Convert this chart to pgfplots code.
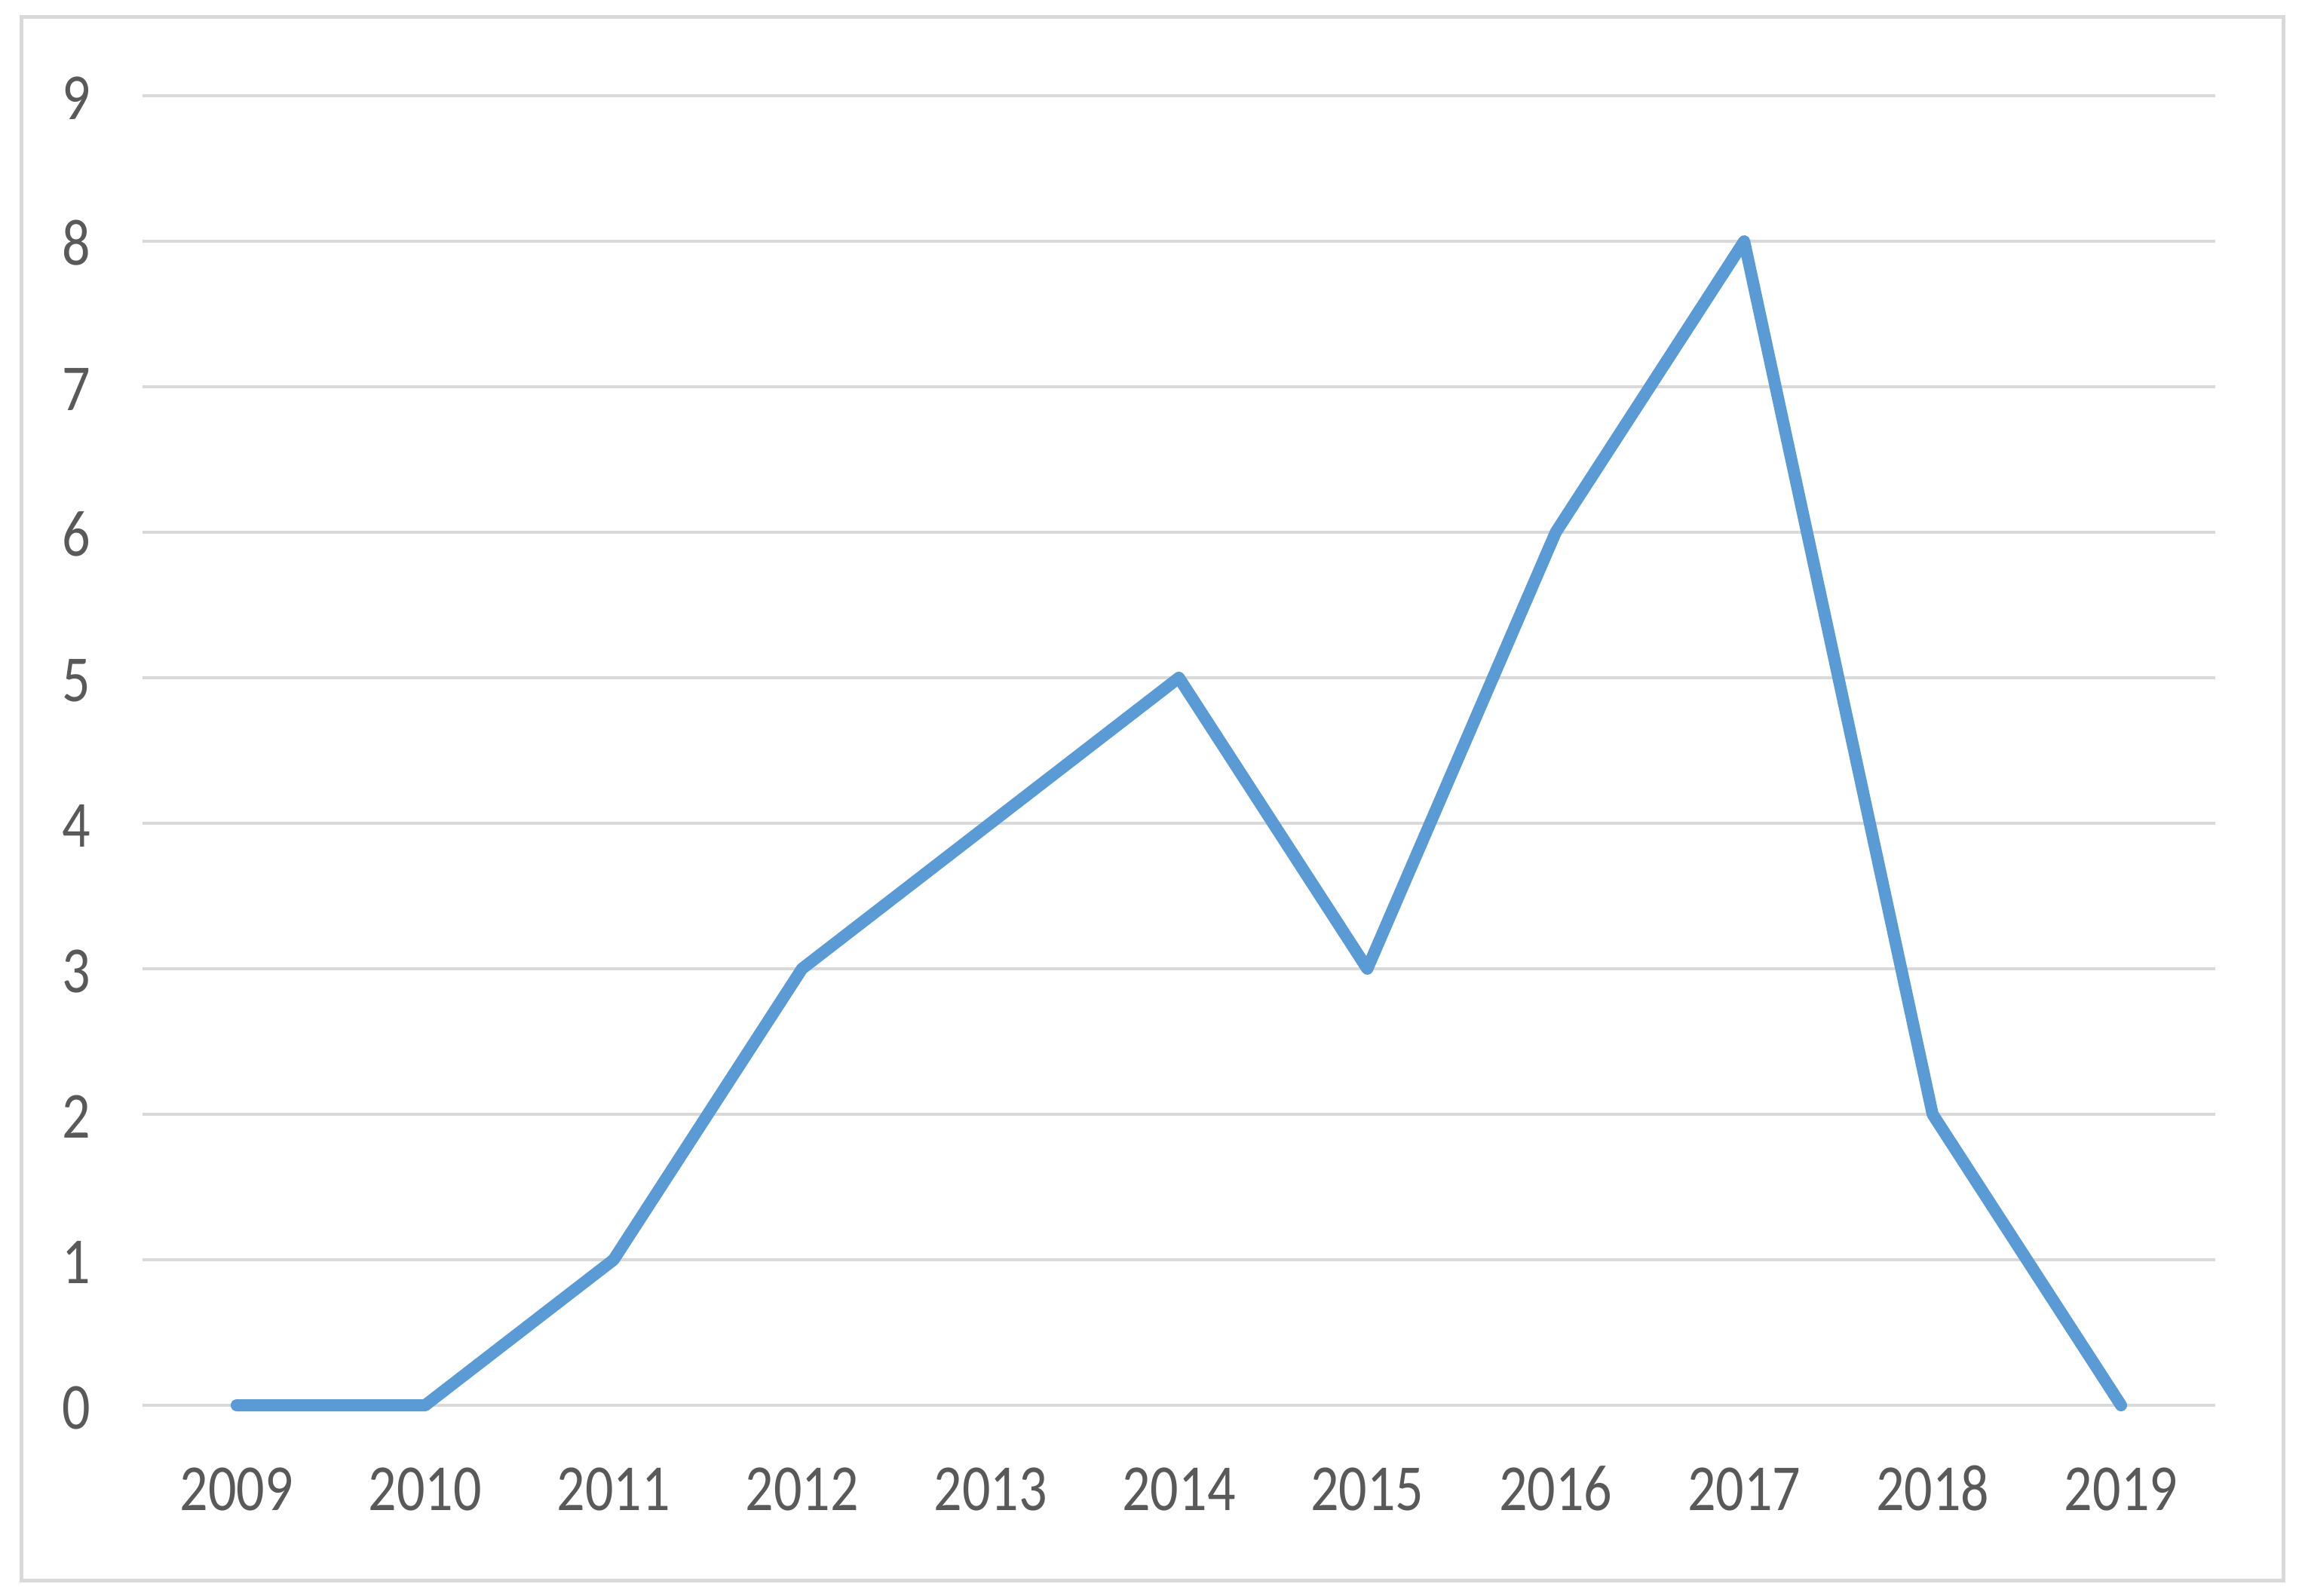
\documentclass[border=0pt]{standalone}
\usepackage{pgfplots}
\pgfplotsset{compat=1.18}
\usepackage{fontspec}
\setmainfont{Carlito}
\definecolor{linebl}{HTML}{5B9BD5}
\definecolor{gridg}{HTML}{D9D9D9}
\definecolor{labg}{HTML}{595959}
\newcommand{\nar}[1]{\scalebox{0.85}[1]{#1}}
\begin{document}
\begin{tikzpicture}
\path[use as bounding box] (-9.45mm,-12.65mm) rectangle (143.4mm,93.2mm);
\draw[gridg, line width=0.25mm] (-8mm,-11.6mm) rectangle (141.95mm,92.05mm);
\begin{axis}[
  at={(0,0)}, anchor=south west,
  scale only axis, width=137.45mm, height=86.85mm,
  xmin=-0.5, xmax=10.5, ymin=0, ymax=9,
  axis line style={draw=none},
  xtick={0,...,10},
  xticklabels={\nar{2009},\nar{2010},\nar{2011},\nar{2012},\nar{2013},\nar{2014},
    \nar{2015},\nar{2016},\nar{2017},\nar{2018},\nar{2019}},
  ytick={0,...,9},
  yticklabel={\nar{\pgfmathprintnumber{\tick}}},
  major tick length=0pt,
  ymajorgrids, grid style={gridg, line width=0.2mm},
  /pgf/number format/assume math mode=true,
  tick label style={font=\fontsize{12.4}{15}\selectfont, text=labg,
    text height=2.8mm, text depth=0pt},
  xticklabel style={anchor=center, yshift=-5.55mm},
  yticklabel style={anchor=center, xshift=-4.4mm, yshift=-0.15mm},
  clip=false,
]
\addplot[linebl, line width=0.8mm, line join=round, line cap=round] coordinates {
  (0,0) (1,0) (2,1) (3,3) (4,4) (5,5) (6,3) (7,6) (8,8) (9,2) (10,0)
};
\end{axis}
\end{tikzpicture}
\end{document}
